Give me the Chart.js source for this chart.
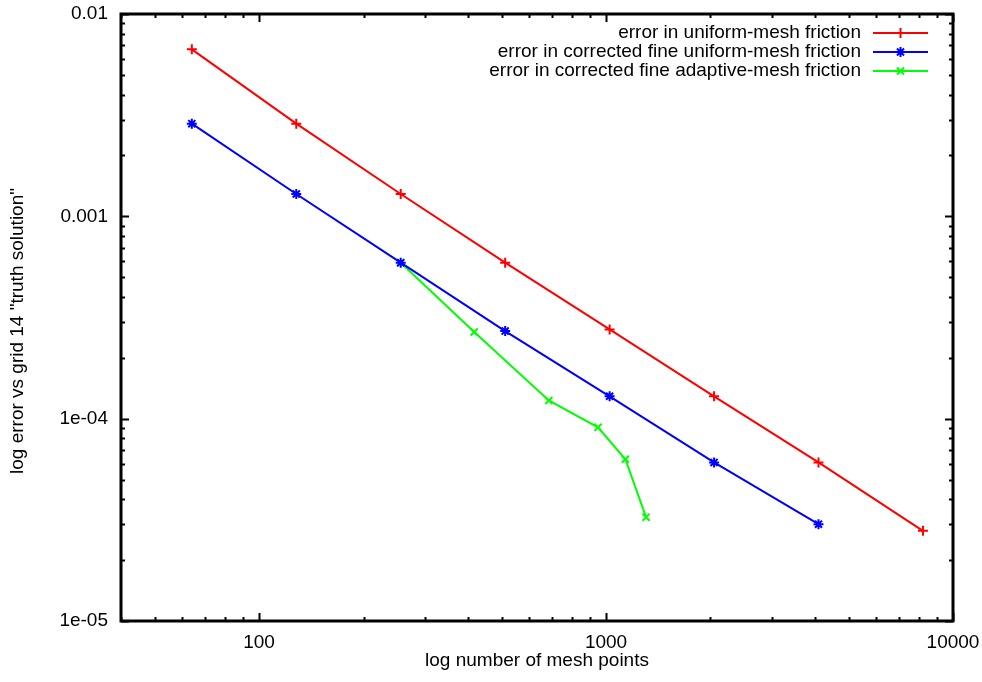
<!DOCTYPE html>
<html>
<head>
<meta charset="utf-8">
<script src="https://cdn.jsdelivr.net/npm/chart.js@4/dist/chart.umd.min.js"></script>
<style>
  html, body { margin: 0; background: #fff; }
  #wrap { width: 982px; height: 682px; }
</style>
</head>
<body>
<div id="wrap"><canvas id="c"></canvas></div>
<script>
// mesh sizes and errors vs the grid-14 reference solution
var uniformPts = [64, 128, 256, 512, 1024, 2048, 4096, 8192];
var uniformErr = [6.69e-3, 2.87e-3, 1.29e-3, 5.90e-4, 2.76e-4, 1.29e-4, 6.08e-5, 2.79e-5];

var fineUniformPts = [64, 128, 256, 512, 1024, 2048, 4096];
var fineUniformErr = [2.87e-3, 1.29e-3, 5.90e-4, 2.71e-4, 1.29e-4, 6.08e-5, 3.01e-5];

var adaptivePts = [256, 417, 684, 948, 1137, 1304];
var adaptiveErr = [5.90e-4, 2.68e-4, 1.23e-4, 9.06e-5, 6.30e-5, 3.26e-5];

var seriesLabels = [
  'error in uniform-mesh friction',
  'error in corrected fine uniform-mesh friction',
  'error in corrected fine adaptive-mesh friction'
];

// axis ranges + labelled decades
var xRange = [40, 10000];
var yRange = [1e-5, 1e-2];
var xMajor = [100, 1000, 10000];
var xMajorLabels = ['100', '1000', '10000'];
var yMajor = [1e-5, 1e-4, 1e-3, 1e-2];
var yMajorLabels = ['1e-05', '1e-04', '0.001', '0.01'];

var xTitle = 'log number of mesh points';
var yTitle = 'log error vs grid 14 "truth solution"';

var FONT = "'Liberation Sans', Arial, sans-serif";

// all 1..9 multiples of each decade that fall in range
function logTicks(range) {
  var out = [];
  var lo = Math.floor(Math.log10(range[0]) + 1e-9), hi = Math.ceil(Math.log10(range[1]) - 1e-9);
  for (var e = lo; e <= hi; e++) {
    for (var m = 1; m < 10; m++) {
      var v = m * Math.pow(10, e);
      if (v >= range[0] * 0.999 && v <= range[1] * 1.001) out.push(v);
    }
  }
  return out;
}
var xTickVals = logTicks(xRange);
var yTickVals = logTicks(yRange);

function majorIndex(list, v) {
  for (var i = 0; i < list.length; i++) {
    if (Math.abs(Math.log10(v) - Math.log10(list[i])) < 1e-6) return i;
  }
  return -1;
}

function pts(xs, ys) {
  return xs.map(function (x, i) { return { x: x, y: ys[i] }; });
}

/* gnuplot-ish box: heavy frame, inward ticks on all four sides,
   rotated y label and a right-aligned key with the sample on the right */
var gnuFrame = {
  id: 'gnuFrame',
  afterDatasetsDraw: function (c) {
    var g = c.ctx, a = c.chartArea, sx = c.scales.x, sy = c.scales.y;
    g.save();
    g.strokeStyle = '#000';
    g.lineWidth = 2;
    g.beginPath();
    xTickVals.forEach(function (v) {
      var px = Math.round(sx.getPixelForValue(v)) + 0.5;
      var len = majorIndex(xMajor, v) >= 0 ? 8 : 4;
      g.moveTo(px, a.bottom); g.lineTo(px, a.bottom - len);
      g.moveTo(px, a.top); g.lineTo(px, a.top + len);
    });
    yTickVals.forEach(function (v) {
      var py = Math.round(sy.getPixelForValue(v)) + 0.5;
      var len = majorIndex(yMajor, v) >= 0 ? 8 : 4;
      g.moveTo(a.left, py); g.lineTo(a.left + len, py);
      g.moveTo(a.right, py); g.lineTo(a.right - len, py);
    });
    g.stroke();
    g.lineWidth = 3;
    g.strokeRect(a.left, a.top, a.right - a.left, a.bottom - a.top);

    // key
    g.font = '19px ' + FONT;
    g.textAlign = 'right';
    g.textBaseline = 'middle';
    c.data.datasets.forEach(function (ds, i) {
      var y = 33 + i * 19;
      g.fillStyle = '#000';
      g.fillText(ds.label, 861, y);
      g.strokeStyle = ds.borderColor;
      g.fillStyle = ds.borderColor;
      g.lineWidth = 2;
      g.beginPath();
      g.moveTo(873, y); g.lineTo(928, y);
      g.stroke();
      Chart.helpers.drawPoint(g, {
        pointStyle: ds.pointStyle, radius: ds.pointRadius,
        borderWidth: ds.pointBorderWidth, rotation: 0
      }, 900.5, y);
    });

    // y axis title
    g.fillStyle = '#000';
    g.textAlign = 'center';
    g.translate(18, 331);
    g.rotate(-Math.PI / 2);
    g.fillText(yTitle, 0, 0);
    g.restore();
  }
};

Chart.defaults.font.family = FONT;
Chart.defaults.font.size = 19;
Chart.defaults.color = '#000';

function series(label, xs, ys, color, style) {
  return {
    label: label,
    data: pts(xs, ys),
    showLine: true,
    borderColor: color,
    backgroundColor: color,
    borderWidth: 2,
    pointStyle: style,
    pointRadius: 5,
    pointBorderWidth: 2,
    pointBorderColor: color,
    pointBackgroundColor: color
  };
}

new Chart(document.getElementById('c'), {
  type: 'scatter',
  data: {
    datasets: [
      series(seriesLabels[0], uniformPts, uniformErr, '#ff0000', 'cross'),
      series(seriesLabels[1], fineUniformPts, fineUniformErr, '#0000ff', 'star'),
      series(seriesLabels[2], adaptivePts, adaptiveErr, '#00ff00', 'crossRot')
    ]
  },
  options: {
    responsive: true,
    maintainAspectRatio: false,
    devicePixelRatio: 1,
    animation: false,
    layout: { padding: { top: 14, right: 29, left: 0, bottom: 0 } },
    plugins: { legend: { display: false }, tooltip: { enabled: false } },
    scales: {
      x: {
        type: 'logarithmic',
        min: xRange[0], max: xRange[1],
        grid: { display: false, drawTicks: false },
        border: { display: false },
        afterBuildTicks: function (s) { s.ticks = xTickVals.map(function (v) { return { value: v }; }); },
        afterFit: function (s) { s.height = 61; s.paddingLeft = 0; s.paddingRight = 0; },
        ticks: {
          autoSkip: false, maxRotation: 0, padding: 10,
          callback: function (v) { var i = majorIndex(xMajor, v); return i >= 0 ? xMajorLabels[i] : ''; }
        },
        title: { display: true, text: xTitle, padding: { top: 0, bottom: 10 } }
      },
      y: {
        type: 'logarithmic',
        min: yRange[0], max: yRange[1],
        grid: { display: false, drawTicks: false },
        border: { display: false },
        afterBuildTicks: function (s) { s.ticks = yTickVals.map(function (v) { return { value: v }; }); },
        afterFit: function (s) { s.width = 121; s.paddingTop = 0; s.paddingBottom = 0; },
        ticks: {
          autoSkip: false, padding: 13,
          callback: function (v) { var i = majorIndex(yMajor, v); return i >= 0 ? yMajorLabels[i] : ''; }
        }
      }
    }
  },
  plugins: [gnuFrame]
});
</script>
</body>
</html>
